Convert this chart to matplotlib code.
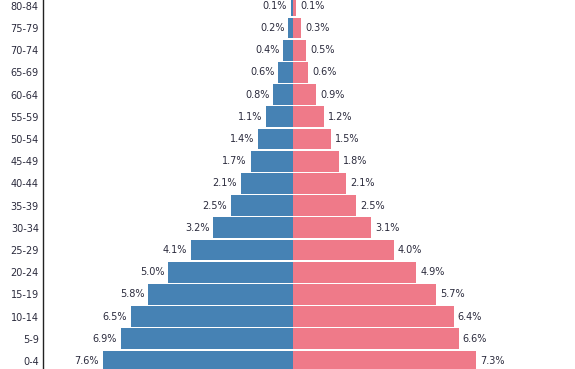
import matplotlib
matplotlib.use("Agg")
import matplotlib.pyplot as plt

age_groups = ["0-4", "5-9", "10-14", "15-19", "20-24", "25-29", "30-34", "35-39",
              "40-44", "45-49", "50-54", "55-59", "60-64", "65-69", "70-74", "75-79", "80-84"]
male = [7.6, 6.9, 6.5, 5.8, 5.0, 4.1, 3.2, 2.5, 2.1, 1.7, 1.4, 1.1, 0.8, 0.6, 0.4, 0.2, 0.1]
female = [7.3, 6.6, 6.4, 5.7, 4.9, 4.0, 3.1, 2.5, 2.1, 1.8, 1.5, 1.2, 0.9, 0.6, 0.5, 0.3, 0.1]

BLUE = "#4682b4"
PINK = "#ef7a89"
TEXT = "#2b2b3d"

fig = plt.figure(figsize=(5.75, 3.69), dpi=100)
ax = fig.add_axes([43 / 575, 0, 1 - 43 / 575, 1])

pos = list(range(len(age_groups)))
ax.barh(pos, [-m for m in male], height=0.93, color=BLUE, linewidth=0)
ax.barh(pos, female, height=0.93, color=PINK, linewidth=0)

for y, m, f in zip(pos, male, female):
    ax.text(-m - 0.16, y, f"{m:.1f}%", ha="right", va="center", fontsize=7, color=TEXT)
    ax.text(f + 0.16, y, f"{f:.1f}%", ha="left", va="center", fontsize=7, color=TEXT)

ax.set_xlim(-10.0, 11.24)
ax.set_ylim(-0.36, 16.26)
ax.set_yticks(pos)
ax.set_yticklabels(age_groups, fontsize=7, color=TEXT)
ax.tick_params(axis="y", length=0, pad=3)
ax.set_xticks([])
for side in ["top", "right", "bottom"]:
    ax.spines[side].set_visible(False)
ax.spines["left"].set_color("#222222")
ax.spines["left"].set_linewidth(1.0)

fig.savefig("out.png", dpi=100)
